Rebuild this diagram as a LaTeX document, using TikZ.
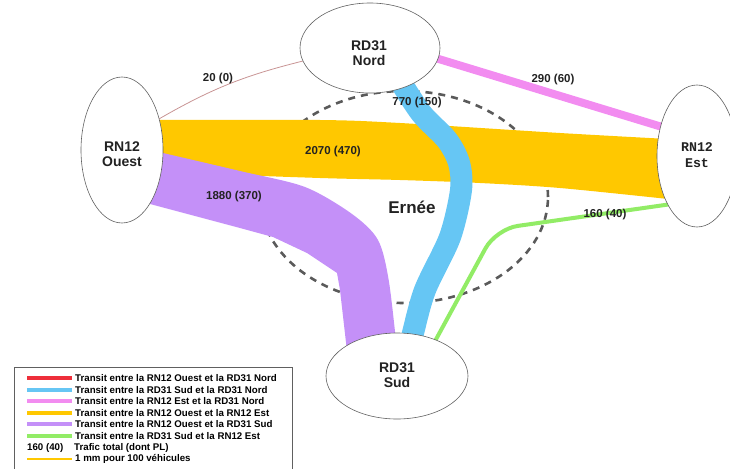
\documentclass[tikz,border=0pt]{standalone}
\usepackage{fontspec}
\setmainfont{Liberation Sans}
\newfontfamily\monofont{Liberation Mono}
\usetikzlibrary{shapes.geometric}
\pgfdeclarelayer{flows}
\pgfsetlayers{flows,main}
\definecolor{cyellow}{HTML}{FFC800}
\definecolor{cpurple}{HTML}{C490F8}
\definecolor{cblue}{HTML}{66C6F4}
\definecolor{cpink}{HTML}{F28CF0}
\definecolor{cgreen}{HTML}{92EC66}
\definecolor{cred}{HTML}{EE2E3A}
\definecolor{credthin}{HTML}{C89494}
\definecolor{cdash}{HTML}{5A5A5A}
\definecolor{cedge}{HTML}{606060}
\definecolor{ctext}{HTML}{222222}
\begin{document}
\begin{tikzpicture}[x=1pt,y=-1pt,
 place/.style={ellipse, draw=cedge, line width=0.6pt, fill=white, inner sep=0pt, outer sep=0pt},
 placetext/.style={font=\fontsize{14}{15}\selectfont\bfseries, align=center, inner sep=0pt, text=ctext},
 flowlabel/.style={font=\fontsize{11.5}{13}\selectfont\bfseries, text=ctext, inner sep=0pt},
 legtext/.style={font=\fontsize{9.7}{11}\selectfont\bfseries, anchor=west, inner sep=0pt, text=black},
 swatch/.style={line width=4pt},
 town/.style={draw=cdash, line width=2.6pt, dash pattern=on 7pt off 6pt}
]
\useasboundingbox (0,0) rectangle (730,468);

% places
\node[place, minimum width=140pt, minimum height=90pt] (nord) at (370,48) {};
\node[place, minimum width=82pt, minimum height=146pt] (ouest) at (122,150) {};
\node[place, minimum width=80pt, minimum height=142pt] (est) at (697,156) {};
\node[place, minimum width=142pt, minimum height=86pt] (sud) at (397,376) {};
\node[placetext] (nordtxt) at (369,53) {RD31\\Nord};
\node[placetext] (ouesttxt) at (122,154) {RN12\\Ouest};
\node[placetext, font=\fontsize{13.3}{15.5}\selectfont\monofont\bfseries] (esttxt) at (697,155) {RN12\\Est};
\node[placetext] (sudtxt) at (397,375) {RD31\\Sud};

% flows
\begin{pgfonlayer}{flows}
\draw[town] (404,197) ellipse [x radius=144pt, y radius=106pt];
% yellow RN12 Ouest - RN12 Est
\fill[cyellow] plot[smooth] coordinates {(150,120) (320,120) (400,123) (560,133) (668,139)}
  -- plot[smooth] coordinates {(668,199) (560,188) (480,183) (400,180) (320,178) (150,172)} -- cycle;
% purple RN12 Ouest - RD31 Sud
\fill[cpurple] plot[smooth] coordinates {(150,150) (240,171) (305,187) (352,214) (378,240) (389,282) (398,360)}
  -- (348,360) -- (340,290) -- (337,273) -- (307,253) -- (273,237) -- (240,228) -- (150,204) -- cycle;
% blue RD31 Sud - RD31 Nord
\draw[cblue, line width=22pt] plot[smooth] coordinates {(397,76) (421,113) (447,140) (459,163) (461,190) (450,237) (425,290) (413,333) (409,352)};
% pink RN12 Est - RD31 Nord
\draw[cpink, line width=8pt, shorten <=-5pt, shorten >=-5pt] (nord.-9) -- (est.141);
% green RD31 Sud - RN12 Est
\draw[cgreen, line width=4pt, rounded corners=22pt, shorten <=-3pt, shorten >=-3pt] (sud.43) -- (496,229) -- (est.239);
% red RN12 Ouest - RD31 Nord
\draw[credthin, line width=0.8pt] (ouest.40) to[bend left=8] (nord.191);
\end{pgfonlayer}

% flow labels
\node[flowlabel] (l20) at (218,79) {20 (0)};
\node[flowlabel] (l290) at (553,80) {290 (60)};
\node[flowlabel] (l770) at (417,103) {770 (150)};
\node[flowlabel] (l2070) at (333,152) {2070 (470)};
\node[flowlabel] (l1880) at (234,197) {1880 (370)};
\node[flowlabel] (l160) at (605,215) {160 (40)};
\node[font=\fontsize{17}{19}\selectfont\bfseries, text=ctext, inner sep=0pt] (ernee) at (412,207) {Ernée};

% legend
\node[draw=cedge, line width=0.6pt, fill=white, minimum width=278pt, minimum height=106pt, anchor=north west, inner sep=0pt] (legend) at (14,367) {};
\draw[swatch, cred] (27,378) -- (72,378);
\node[legtext] (lg1) at (75,378) {Transit entre la RN12 Ouest et la RD31 Nord};
\draw[swatch, cblue] (27,389.6) -- (72,389.6);
\node[legtext] (lg2) at (75,389.6) {Transit entre la RD31 Sud et la RD31 Nord};
\draw[swatch, cpink] (27,401.2) -- (72,401.2);
\node[legtext] (lg3) at (75,401.2) {Transit entre la RN12 Est et la RD31 Nord};
\draw[swatch, cyellow] (27,412.8) -- (72,412.8);
\node[legtext] (lg4) at (75,412.8) {Transit entre la RN12 Ouest et la RN12 Est};
\draw[swatch, cpurple] (27,424.4) -- (72,424.4);
\node[legtext] (lg5) at (75,424.4) {Transit entre la RN12 Ouest et la RD31 Sud};
\draw[swatch, cgreen] (27,436) -- (72,436);
\node[legtext] (lg6) at (75,436) {Transit entre la RD31 Sud et la RN12 Est};
\node[legtext] (lg7a) at (27,447.6) {160 (40)};
\node[legtext] (lg7) at (74,447.6) {Trafic total (dont PL)};
\draw[line width=1.8pt, cyellow] (27,459.2) -- (72,459.2);
\node[legtext] (lg8) at (75,459.2) {1 mm pour 100 véhicules};
\end{tikzpicture}
\end{document}
